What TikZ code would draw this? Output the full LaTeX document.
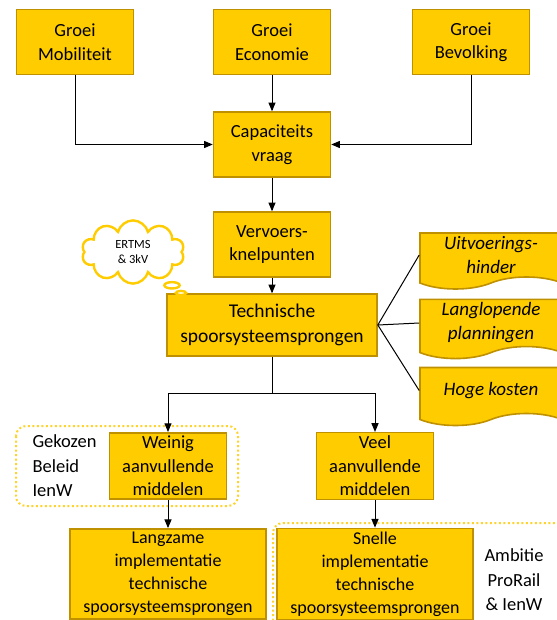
\documentclass[tikz,border=0pt]{standalone}
\usepackage{fontspec}
\setmainfont{Carlito}
\usetikzlibrary{arrows}
\usetikzlibrary{shapes.symbols,shapes.callouts}
\definecolor{goud}{HTML}{FFCC00}
\definecolor{goudrand}{HTML}{BF9000}
\definecolor{stip}{HTML}{FFD32A}

\begin{document}
\begin{tikzpicture}[x=1pt,y=-1pt,
    blok/.style={rectangle,draw=goudrand,fill=goud,line width=1.6pt,align=center,
      minimum width=117pt,minimum height=65pt,font=\fontsize{18.5}{23.5}\selectfont},
    doc/.style={tape,tape bend top=none,tape bend height=12pt,draw=goudrand,fill=goud,
      line width=1.6pt,align=center,minimum width=142pt,minimum height=58pt,
      font=\fontsize{19}{24}\selectfont\itshape},
    pijl/.style={->,>=triangle 45,line width=1pt},
    kader/.style={draw=stip,line width=2pt,dash pattern=on 2pt off 2.5pt,rounded corners=10pt},
    tekst/.style={font=\fontsize{18.5}{24.5}\selectfont}]
  \useasboundingbox (0,0) rectangle (556,620);

  % groei
  \node (mob) [blok] at (75,42) {Groei\\Mobiliteit};
  \node (eco) [blok] at (272,42) {Groei\\Economie};
  \node (bev) [blok] at (471,42) {Groei\\Bevolking};
  \node (cap) [blok] at (272,144.5) {Capaciteits\\vraag};
  \node (knel) [blok] at (272,244.5) {Vervoers-\\knelpunten};
  \node (tech) [blok,minimum width=210pt,minimum height=62pt,font=\fontsize{19.5}{25}\selectfont]
    at (272,325) {Technische\\spoorsysteemsprongen};

  % wolk
  \coordinate (punt) at (181,293);
  \node (wolk) [cloud callout,draw=goud,fill=white,line width=2.4pt,cloud puffs=10,aspect=2.3,
    minimum width=90pt,minimum height=38pt,callout absolute pointer={(punt)},align=center,
    font=\fontsize{12.5}{15}\selectfont] at (133,252) {ERTMS\\\& 3kV};

  % gevolgen
  \node (hinder) [doc,minimum height=56pt] at (491,255) {Uitvoerings-\\hinder};
  \node (plan) [doc] at (491,323) {Langlopende\\planningen};
  \node (kost) [doc] at (491,390.5) {Hoge kosten};

  % middelen
  \node (weinig) [blok,minimum height=66pt] at (168,466) {Weinig\\aanvullende\\middelen};
  \node (veel) [blok,minimum height=66pt] at (375,466) {Veel\\aanvullende\\middelen};
  \node (langzaam) [blok,minimum width=196pt,minimum height=88pt,font=\fontsize{18}{23}\selectfont]
    at (168,574) {Langzame\\implementatie\\technische\\spoorsysteemsprongen};
  \node (snel) [blok,minimum width=196pt,minimum height=88pt,font=\fontsize{18}{23}\selectfont]
    at (375,574) {Snelle\\implementatie\\technische\\spoorsysteemsprongen};

  \draw[kader] (16,426) rectangle (238,506);
  \draw[kader] (273,523) rectangle (570,635);
  \node (beleid) [tekst,anchor=west,align=left] at (29,466) {Gekozen\\Beleid\\IenW};
  \node (ambitie) [tekst,align=center] at (514,580) {Ambitie\\ProRail\\\& IenW};

  \draw[pijl] (mob.south) |- (cap.west);
  \draw[pijl] (eco) -- (cap);
  \draw[pijl] (bev.south) |- (cap.east);
  \draw[pijl] (cap) -- (knel);
  \draw[pijl] (knel) -- (tech);

  \draw[line width=1pt] (tech.east) -- (hinder.west);
  \draw[line width=1pt] (tech.east) -- (plan.west);
  \draw[line width=1pt] (tech.east) -- (kost.west);

  \coordinate (tak) at (272,393);
  \draw[line width=1pt] (tech) -- (tak);
  \draw[pijl] (tak) -| (weinig);
  \draw[pijl] (tak) -| (veel);
  \draw[pijl] (weinig) -- (langzaam);
  \draw[pijl] (veel) -- (snel);
\end{tikzpicture}
\end{document}
